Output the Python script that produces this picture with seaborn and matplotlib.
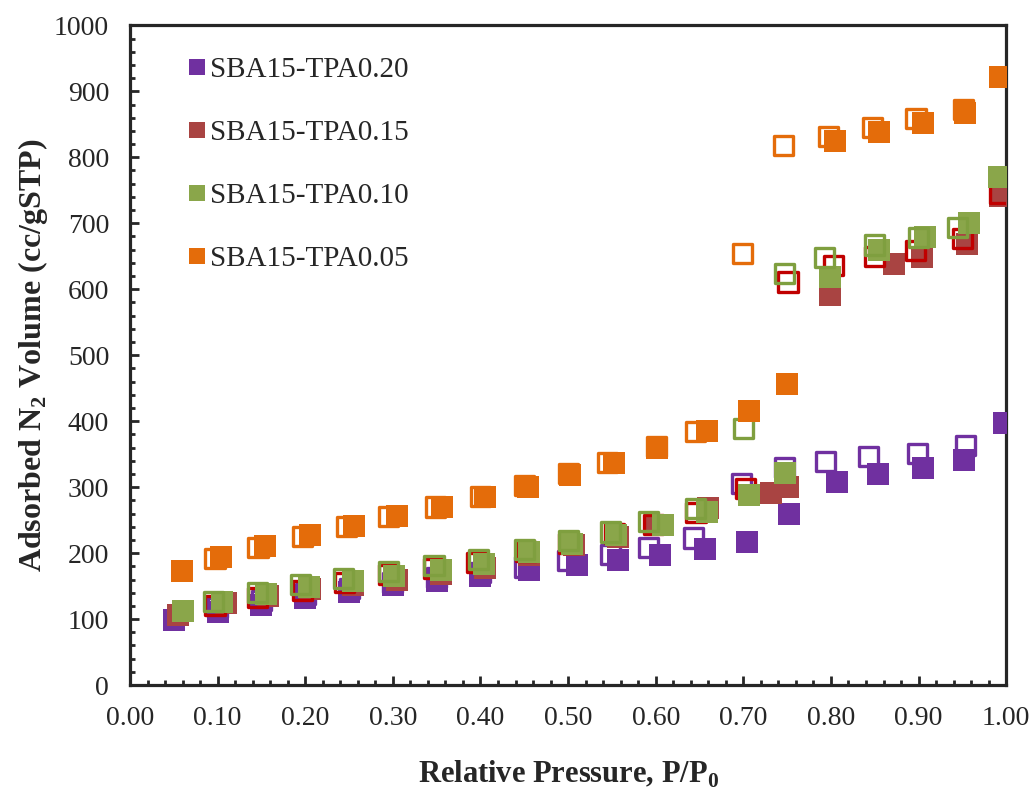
import numpy as np
import pandas as pd
import seaborn as sns
import matplotlib.pyplot as plt
from matplotlib.lines import Line2D
from matplotlib.ticker import MultipleLocator, FormatStrFormatter

# sample names and colours (adsorption filled, desorption open)
samples = ['SBA15-TPA0.20', 'SBA15-TPA0.15', 'SBA15-TPA0.10', 'SBA15-TPA0.05']
ads_colors = ['#7030A0', '#A94442', '#8AA64A', '#E46C0A']
des_colors = ['#7030A0', '#C00000', '#7F9F3F', '#E46C0A']

# SBA15-TPA0.20
ads_p_020 = [0.05, 0.10, 0.15, 0.20, 0.25, 0.30, 0.35, 0.40, 0.455, 0.51, 0.557, 0.605, 0.656, 0.704, 0.752, 0.807, 0.854, 0.905, 0.952, 0.997]
ads_v_020 = [98, 111, 121, 132, 141, 151, 158, 166, 174, 182, 189, 197, 206, 217, 259, 308, 320, 329, 341, 398]
des_p_020 = [0.10, 0.15, 0.20, 0.25, 0.30, 0.35, 0.40, 0.45, 0.499, 0.548, 0.592, 0.643, 0.698, 0.747, 0.794, 0.843, 0.899, 0.954]
des_v_020 = [117, 128, 138, 147, 155, 163, 171, 179, 189, 198, 209, 223, 305, 330, 339, 346, 351, 363]

# SBA15-TPA0.15
ads_p_015 = [0.055, 0.11, 0.157, 0.205, 0.255, 0.305, 0.355, 0.405, 0.455, 0.507, 0.557, 0.60, 0.66, 0.732, 0.751, 0.799, 0.872, 0.904, 0.955, 0.993]
ads_v_015 = [106, 124, 135, 145, 152, 160, 169, 178, 197, 212, 225, 242, 268, 291, 300, 592, 639, 649, 669, 742]
des_p_015 = [0.097, 0.145, 0.197, 0.245, 0.295, 0.347, 0.395, 0.452, 0.501, 0.553, 0.597, 0.646, 0.702, 0.751, 0.803, 0.85, 0.896, 0.95, 0.993]
des_v_015 = [121, 133, 144, 156, 167, 177, 186, 203, 215, 230, 244, 262, 298, 611, 636, 649, 659, 677, 745]

# SBA15-TPA0.10
ads_p_010 = [0.06, 0.105, 0.155, 0.204, 0.255, 0.301, 0.355, 0.404, 0.455, 0.505, 0.555, 0.608, 0.658, 0.706, 0.748, 0.799, 0.855, 0.907, 0.957, 0.992]
ads_v_010 = [112, 126, 138, 148, 158, 166, 175, 184, 202, 214, 227, 242, 262, 288, 321, 618, 659, 679, 700, 770]
des_p_010 = [0.095, 0.145, 0.195, 0.244, 0.295, 0.347, 0.398, 0.45, 0.50, 0.548, 0.592, 0.645, 0.70, 0.747, 0.793, 0.85, 0.90, 0.944]
des_v_010 = [127, 140, 153, 162, 172, 181, 190, 205, 219, 232, 248, 268, 389, 624, 648, 667, 679, 694]

# SBA15-TPA0.05
ads_p_005 = [0.059, 0.104, 0.154, 0.205, 0.256, 0.305, 0.356, 0.405, 0.454, 0.502, 0.552, 0.602, 0.658, 0.706, 0.75, 0.805, 0.855, 0.905, 0.953, 0.993]
ads_v_005 = [173, 194, 211, 227, 241, 256, 270, 285, 300, 318, 336, 360, 385, 415, 456, 824, 838, 852, 867, 922]
des_p_005 = [0.097, 0.146, 0.197, 0.247, 0.295, 0.349, 0.40, 0.45, 0.50, 0.545, 0.601, 0.645, 0.699, 0.746, 0.797, 0.847, 0.897, 0.951]
des_v_005 = [192, 209, 225, 240, 256, 270, 286, 303, 321, 338, 362, 385, 654, 818, 832, 845, 859, 873]

ads_p = [ads_p_020, ads_p_015, ads_p_010, ads_p_005]
ads_v = [ads_v_020, ads_v_015, ads_v_010, ads_v_005]
des_p = [des_p_020, des_p_015, des_p_010, des_p_005]
des_v = [des_v_020, des_v_015, des_v_010, des_v_005]

sns.set_style('ticks')
plt.rcParams['font.family'] = ['Liberation Serif', 'DejaVu Serif']
plt.rcParams['mathtext.fontset'] = 'custom'
plt.rcParams['mathtext.rm'] = 'Liberation Serif'
plt.rcParams['mathtext.bf'] = 'Liberation Serif:bold'

fig = plt.figure(figsize=(10.32, 7.92), dpi=100)
ax = fig.add_axes([0.126, 0.135, 0.849, 0.833])

for i, name in enumerate(samples):
    ads = pd.DataFrame({'p': ads_p[i], 'v': ads_v[i]})
    des = pd.DataFrame({'p': des_p[i], 'v': des_v[i]})
    sns.scatterplot(data=ads, x='p', y='v', marker='s', s=245, color=ads_colors[i],
                    linewidth=0, ax=ax, zorder=3 + 2 * i)
    sns.scatterplot(data=des, x='p', y='v', marker='s', s=190, color='none',
                    edgecolor=des_colors[i], linewidth=2.4, ax=ax, zorder=4 + 2 * i)

ax.set_xlim(0, 1.0)
ax.set_ylim(0, 1000)
ax.xaxis.set_major_locator(MultipleLocator(0.1))
ax.xaxis.set_minor_locator(MultipleLocator(0.02))
ax.yaxis.set_major_locator(MultipleLocator(100))
ax.yaxis.set_minor_locator(MultipleLocator(20))
ax.xaxis.set_major_formatter(FormatStrFormatter('%.2f'))

ax.tick_params(which='both', direction='in', top=False, right=False, width=2.0,
               labelsize=20, pad=15)
ax.tick_params(which='major', length=6.5)
ax.tick_params(which='minor', length=3.5)
for sp in ax.spines.values():
    sp.set_linewidth(2.3)
    sp.set_visible(True)

ax.set_xlabel(r'Relative Pressure, P/P$_\mathbf{0}$', fontsize=22, fontweight='bold', labelpad=20)
ax.set_ylabel(r'Adsorbed N$_\mathbf{2}$ Volume (cc/gSTP)', fontsize=23, fontweight='bold', labelpad=3)

handles = [Line2D([], [], marker='s', linestyle='none', markersize=11,
                  markerfacecolor=c, markeredgewidth=0) for c in ads_colors]
ax.legend(handles, samples, loc='upper left', bbox_to_anchor=(0.053, 0.97),
          frameon=False, fontsize=21, labelspacing=1.25, handlelength=0.6,
          handletextpad=0.15, borderaxespad=0)

fig.savefig('out.png', dpi=100)
